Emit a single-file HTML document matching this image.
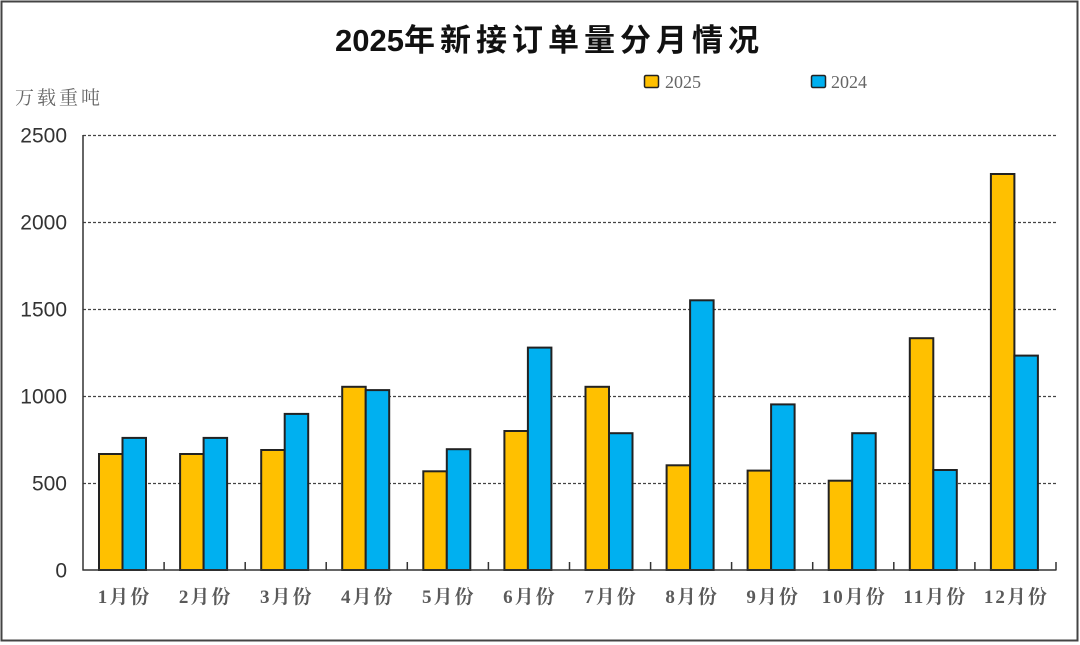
<!DOCTYPE html>
<html>
<head>
<meta charset="utf-8">
<style>
  html, body { margin:0; padding:0; background:#fff; }
  svg { display:block; }
</style>
</head>
<body>
<svg width="1080" height="645" viewBox="0 0 1080 645" xmlns="http://www.w3.org/2000/svg">
  <rect x="0" y="0" width="1080" height="645" fill="#fff"/>
  <!-- frame -->
  <rect x="1.5" y="1.5" width="1076" height="639" fill="none" stroke="#444" stroke-width="2"/>

  <!-- title -->
  <text x="335" y="51" font-family="Liberation Sans, Noto Sans CJK SC, sans-serif" font-size="31" font-weight="bold" fill="#111">2025<tspan font-family="Noto Sans CJK SC, sans-serif" letter-spacing="5">年新接订单量分月情况</tspan></text>

  <!-- y label -->
  <text x="15" y="104" font-family="Liberation Serif, Noto Serif CJK SC, serif" font-size="19" fill="#666" letter-spacing="3">万载重吨</text>

  <!-- legend -->
  <rect x="644.5" y="75.5" width="14" height="12" rx="1.5" fill="#FFC000" stroke="#222" stroke-width="1.5"/>
  <text x="665" y="88" font-family="Liberation Serif, serif" font-size="18" fill="#666">2025</text>
  <rect x="811.5" y="75.5" width="14" height="12" rx="1.5" fill="#00B0F0" stroke="#222" stroke-width="1.5"/>
  <text x="831" y="88" font-family="Liberation Serif, serif" font-size="18" fill="#666">2024</text>

  <!-- gridlines -->
  <g stroke="#444" stroke-width="1.2" stroke-dasharray="3,2">
    <line x1="83" y1="135.5" x2="1056" y2="135.5"/>
    <line x1="83" y1="222.5" x2="1056" y2="222.5"/>
    <line x1="83" y1="309.5" x2="1056" y2="309.5"/>
    <line x1="83" y1="396.5" x2="1056" y2="396.5"/>
    <line x1="83" y1="483.5" x2="1056" y2="483.5"/>
  </g>

  <!-- y tick labels -->
  <g font-family="Liberation Sans, sans-serif" font-size="21" fill="#333" text-anchor="end">
    <text x="67" y="142.5">2500</text>
    <text x="67" y="229.5">2000</text>
    <text x="67" y="316.5">1500</text>
    <text x="67" y="403.5">1000</text>
    <text x="67" y="490.5">500</text>
    <text x="67" y="577.5">0</text>
  </g>

  <!-- bars -->
  <g stroke="#222" stroke-width="2">
    <!-- 2025 orange -->
    <g fill="#FFC000">
      <rect x="99" y="454" width="23.5" height="116"/>
      <rect x="180.1" y="454" width="23.5" height="116"/>
      <rect x="261.2" y="450" width="23.5" height="120"/>
      <rect x="342.2" y="386.8" width="23.5" height="183.2"/>
      <rect x="423.3" y="471.3" width="23.5" height="98.7"/>
      <rect x="504.4" y="431" width="23.5" height="139"/>
      <rect x="585.5" y="386.8" width="23.5" height="183.2"/>
      <rect x="666.6" y="465.3" width="23.5" height="104.7"/>
      <rect x="747.6" y="470.6" width="23.5" height="99.4"/>
      <rect x="828.7" y="480.7" width="23.5" height="89.3"/>
      <rect x="909.8" y="338.2" width="23.5" height="231.8"/>
      <rect x="990.9" y="174" width="23.5" height="396"/>
    </g>
    <!-- 2024 blue -->
    <g fill="#00B0F0">
      <rect x="122.5" y="437.9" width="23.5" height="132.1"/>
      <rect x="203.6" y="437.9" width="23.5" height="132.1"/>
      <rect x="284.7" y="413.9" width="23.5" height="156.1"/>
      <rect x="365.7" y="390.1" width="23.5" height="179.9"/>
      <rect x="446.8" y="449.2" width="23.5" height="120.8"/>
      <rect x="527.9" y="347.6" width="23.5" height="222.4"/>
      <rect x="609" y="433.2" width="23.5" height="136.8"/>
      <rect x="690.1" y="300.3" width="23.5" height="269.7"/>
      <rect x="771.1" y="404.4" width="23.5" height="165.6"/>
      <rect x="852.2" y="433.2" width="23.5" height="136.8"/>
      <rect x="933.3" y="470" width="23.5" height="100"/>
      <rect x="1014.4" y="355.6" width="23.5" height="214.4"/>
    </g>
  </g>

  <!-- axes -->
  <g stroke="#333" stroke-width="1.5" fill="none">
    <line x1="83" y1="135" x2="83" y2="570.5"/>
    <line x1="82.5" y1="570" x2="1056.5" y2="570"/>
    <line x1="164.1" y1="562" x2="164.1" y2="570"/>
    <line x1="245.2" y1="562" x2="245.2" y2="570"/>
    <line x1="326.2" y1="562" x2="326.2" y2="570"/>
    <line x1="407.3" y1="562" x2="407.3" y2="570"/>
    <line x1="488.4" y1="562" x2="488.4" y2="570"/>
    <line x1="569.5" y1="562" x2="569.5" y2="570"/>
    <line x1="650.6" y1="562" x2="650.6" y2="570"/>
    <line x1="731.6" y1="562" x2="731.6" y2="570"/>
    <line x1="812.7" y1="562" x2="812.7" y2="570"/>
    <line x1="893.8" y1="562" x2="893.8" y2="570"/>
    <line x1="974.9" y1="562" x2="974.9" y2="570"/>
    <line x1="1056" y1="562" x2="1056" y2="570"/>
  </g>

  <!-- x labels -->
  <g font-family="Liberation Serif, Noto Serif CJK SC, serif" font-size="19" font-weight="bold" fill="#5a5a5a" text-anchor="middle" letter-spacing="2">
    <text x="124.5" y="603">1月份</text>
    <text x="205.6" y="603">2月份</text>
    <text x="286.7" y="603">3月份</text>
    <text x="367.7" y="603">4月份</text>
    <text x="448.8" y="603">5月份</text>
    <text x="529.9" y="603">6月份</text>
    <text x="611" y="603">7月份</text>
    <text x="692.1" y="603">8月份</text>
    <text x="773.1" y="603">9月份</text>
    <text x="854.2" y="603">10月份</text>
    <text x="935.3" y="603">11月份</text>
    <text x="1016.4" y="603">12月份</text>
  </g>
</svg>
</body>
</html>
